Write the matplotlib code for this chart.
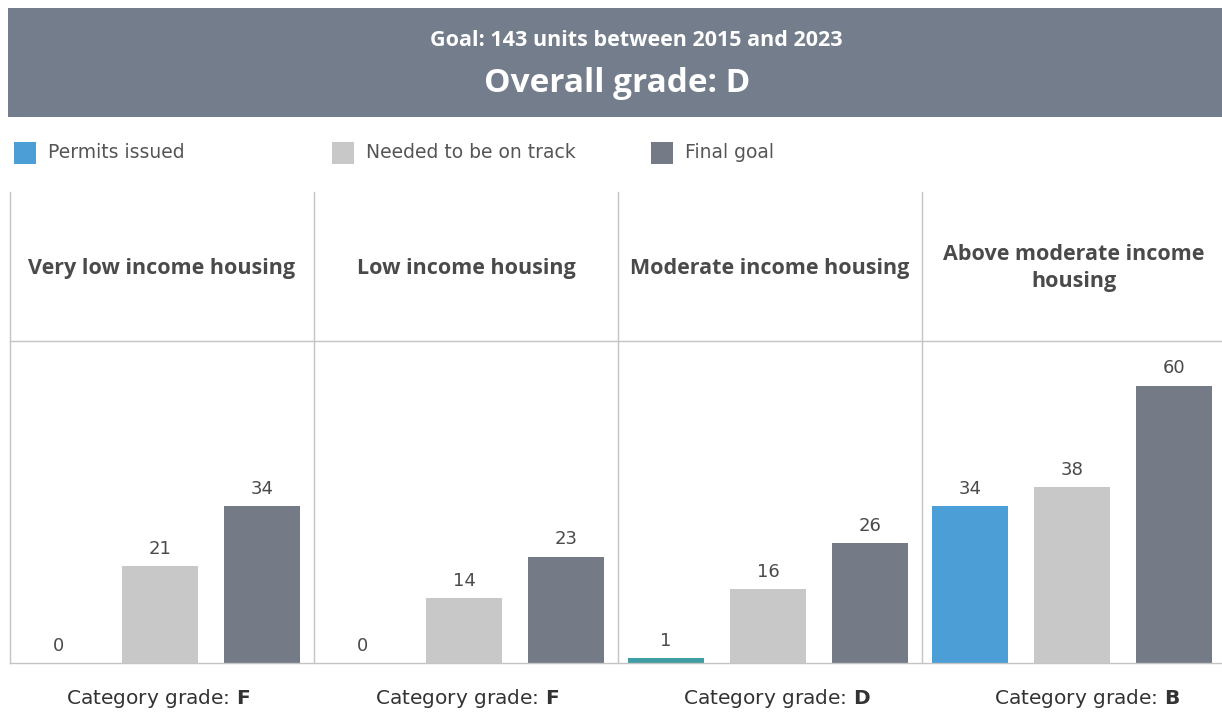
import matplotlib
matplotlib.use("Agg")
import matplotlib.pyplot as plt
from matplotlib.patches import Rectangle
from matplotlib.lines import Line2D

# ---- data ----
categories = ["Very low income housing", "Low income housing",
              "Moderate income housing", "Above moderate income\nhousing"]
series_names = ["Permits issued", "Needed to be on track", "Final goal"]
permits_issued = [0, 0, 1, 34]
needed_on_track = [21, 14, 16, 38]
final_goal = [34, 23, 26, 60]
category_grades = ["F", "F", "D", "B"]
goal_text = "Goal: 143 units between 2015 and 2023"
overall_grade = "D"

# ---- style ----
W, H = 1222, 721
colors = ["#4c9fd6", "#c8c8c8", "#747b87"]
small_bar_color = "#3f9ea3"
header_bg = "#737d8b"
line_col = "#c4c4c4"
text_col = "#4a4a4a"
plt.rcParams['font.family'] = ['DejaVu Sans']

fig = plt.figure(figsize=(W / 100, H / 100), dpi=100)
fig.patch.set_facecolor("white")


def fx(px):
    return px / W


def fy(py):
    return 1 - py / H


# header band
fig.patches.append(Rectangle((fx(8), fy(117)), fx(1222) - fx(8), fy(8) - fy(117),
                             transform=fig.transFigure, facecolor=header_bg,
                             edgecolor="none", zorder=0))
fig.text(fx(636), fy(41), goal_text, color="white", fontsize=15.5,
         fontweight="bold", ha="center", va="center", family=["Open Sans"])
fig.text(fx(617), fy(83), f"Overall grade: {overall_grade}", color="white",
         fontsize=24, fontweight="bold", ha="center", va="center",
         family=["Open Sans"])

# legend
leg_x = [14, 332, 651]
for i, name in enumerate(series_names):
    fig.patches.append(Rectangle((fx(leg_x[i]), fy(164)), fx(22), fy(142) - fy(164),
                                 transform=fig.transFigure, facecolor=colors[i],
                                 edgecolor="none"))
    fig.text(fx(leg_x[i] + 34), fy(153), name, color="#555555", fontsize=13.5,
             ha="left", va="center")

# panel geometry
left = 10
pw = 304
top_line = 192
head_bottom = 341
base = 663
right = 1222

# grid lines
for k in range(4):
    x = left + k * pw
    fig.lines.append(Line2D([fx(x), fx(x)], [fy(top_line), fy(base)],
                            transform=fig.transFigure, color=line_col, lw=1))
for yy in (head_bottom, base):
    fig.lines.append(Line2D([fx(left), fx(right)], [fy(yy), fy(yy)],
                            transform=fig.transFigure, color=line_col, lw=1))

unit = 102.0  # px per bar slot
x0 = 48.0      # px offset of first bar center
ymax = (base - head_bottom) / 4.62

for k, cat in enumerate(categories):
    px_left = left + k * pw
    ax = fig.add_axes([fx(px_left), fy(base), fx(pw), fy(head_bottom) - fy(base)])
    ax.set_xlim(-x0 / unit, (pw - x0) / unit)
    ax.set_ylim(0, ymax)
    ax.axis("off")
    vals = [permits_issued[k], needed_on_track[k], final_goal[k]]
    bar_cols = list(colors)
    if vals[0] <= 2:
        bar_cols[0] = small_bar_color
    ax.bar(range(3), vals, width=0.745, color=bar_cols, zorder=2)
    for i, v in enumerate(vals):
        ax.annotate(str(v), (i, v), xytext=(0, 6), textcoords="offset points",
                    ha="center", va="bottom", fontsize=13, color=text_col)
    # category header
    fig.text(fx(px_left + pw / 2), fy(268), cat, ha="center", va="center",
             fontsize=15.5, fontweight="bold", color=text_col, linespacing=1.4,
             family=["Open Sans"])
    # grade text
    fig.text(fx(px_left + 148 + 5.5 * k), fy(698),
             "Category grade: $\\bf{" + category_grades[k] + "}$",
             ha="center", va="center", fontsize=14.5, color="#333333")

fig.savefig("out.png", dpi=100, facecolor="white")
